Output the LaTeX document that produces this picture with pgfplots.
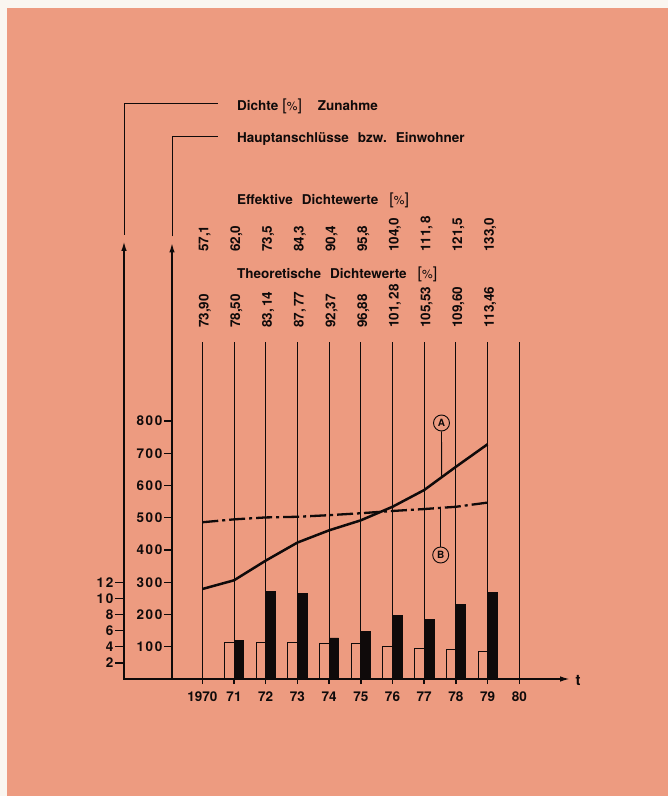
\documentclass[border=0pt]{standalone}
\usepackage{fontspec}
\setmainfont{TeX Gyre Heros}
\newfontfamily\numfont[LetterSpace=12]{TeX Gyre Heros}
\usepackage{pgfplots}
\pgfplotsset{compat=1.18}
\usetikzlibrary{arrows.meta}
\definecolor{bg}{RGB}{237,155,128}
\definecolor{ink}{RGB}{15,10,10}
\newcommand\f[1]{\fontsize{#1}{#1}\selectfont\bfseries}
\newcommand\p[2]{({#1-123.05},{679-(#2)})}
\newcommand\pct{{\mdseries\fontsize{16}{16}\selectfont[}{\mdseries\fontsize{12}{12}\selectfont\%}{\mdseries\fontsize{16}{16}\selectfont]}}
\begin{document}
\begin{tikzpicture}
\begin{scope}[x=1pt,y=1pt]
\path[use as bounding box, fill={rgb,255:red,250;green,246;blue,240}] \p{0}{796} rectangle \p{668}{0};
\fill[bg] \p{7}{796} rectangle \p{668}{8};
\end{scope}

% bars (percent scale)
\begin{axis}[at={(0,0)}, anchor=south west, scale only axis,
  width=446.97pt, height=580.5pt,
  xmin=1967.5, xmax=1981.6, ymin=0, ymax=72,
  hide axis, ybar, bar width=9.6pt, clip=false]
\addplot[draw=ink, fill=none, line width=1pt, bar shift=-4.8pt] coordinates
 {(1971,4.48) (1972,4.48) (1973,4.48) (1974,4.36) (1975,4.36) (1976,4.03) (1977,3.79) (1978,3.70) (1979,3.42)};
\addplot[draw=ink, fill=ink, line width=0.5pt, bar shift=4.8pt] coordinates
 {(1971,4.81) (1972,10.90) (1973,10.58) (1974,5.10) (1975,5.93) (1976,7.90) (1977,7.37) (1978,9.30) (1979,10.70)};
\end{axis}

% main axis
\begin{axis}[at={(0,0)}, anchor=south west, scale only axis,
  width=446.97pt, height=580.5pt,
  xmin=1967.5, xmax=1981.6, ymin=0, ymax=1800,
  axis x line=bottom, axis y line=none,
  axis line style={ink, line width=1.7pt, -{Latex[length=10pt,width=5.5pt]}},
  xtick={1970,1971,1972,1973,1974,1975,1976,1977,1978,1979,1980},
  xticklabels={1970,71,72,73,74,75,76,77,78,79,80},
  tick align=outside, major tick length=5pt,
  tick style={ink, line width=1.5pt},
  xticklabel style={font=\f{13.5}, text=ink, yshift=-4pt},
  clip=false]
\addplot[ycomb, ink, line width=1pt, no marks] coordinates
 {(1970,1045) (1971,1045) (1972,1045) (1973,1045) (1974,1045) (1975,1045) (1976,1045) (1977,1045) (1978,1045) (1979,1045) (1980,1045)};
\addplot[ink, line width=2.5pt, no marks, line join=round] coordinates
 {(1970,279) (1971,306) (1972,367) (1973,423) (1974,461) (1975,492) (1976,534) (1977,586) (1978,658) (1979,728)};
\addplot[ink, line width=2.3pt, no marks, dash pattern=on 16pt off 4pt on 3pt off 4pt] coordinates
 {(1970,486) (1971,495) (1972,501) (1973,503) (1974,508) (1975,514) (1976,521) (1977,527) (1978,534) (1979,547)};
\end{axis}

\begin{scope}[x=1pt,y=1pt]
% left axes
\draw[ink, line width=1.8pt, -{Latex[length=10pt,width=5.5pt]}] \p{124}{679.8} -- \p{124}{241};
\draw[ink, line width=1.8pt, -{Latex[length=10pt,width=5.5pt]}] \p{172}{679.8} -- \p{172}{242.5};
\draw[ink, line width=1pt] \p{124.5}{235} -- \p{124.5}{103.3} -- \p{218}{103.3};
\draw[ink, line width=1pt] \p{172.5}{236.5} -- \p{172.5}{137} -- \p{218}{137};
\foreach \v in {2,4,...,12} {
  \draw[ink, line width=1.4pt] \p{115}{679-\v*8.0625} -- \p{124}{679-\v*8.0625};
  \node[anchor=east, inner sep=0, text=ink] at \p{113.5}{679-\v*8.0625} {\numfont\f{13.5}\v};
}
\foreach \v in {100,200,...,800} {
  \draw[ink, line width=1.4pt] \p{164.5}{679-\v*0.3225} -- \p{172}{679-\v*0.3225};
  \node[anchor=east, inner sep=0, text=ink] at \p{162.5}{679-\v*0.3225} {\numfont\f{13.5}\v};
}
% headers
\node[anchor=base west, inner sep=0, text=ink] at \p{237}{110.5} {\f{13.5}Dichte\hspace{4pt}\pct\hspace{16pt}Zunahme};
\node[anchor=base west, inner sep=0, text=ink] at \p{237}{142.7} {\f{13.5}Hauptanschlüsse\hspace{9pt}bzw.\hspace{9pt}Einwohner};
\node[anchor=base west, inner sep=0, text=ink] at \p{237}{205} {\f{13.5}Effektive\hspace{9pt}Dichtewerte\hspace{11pt}\pct};
\node[anchor=base west, inner sep=0, text=ink] at \p{237}{279} {\f{13.5}Theoretische\hspace{9pt}Dichtewerte\hspace{11pt}\pct};
% rotated values
\foreach \k/\t in {0/{57,1},1/{62,0},2/{73,5},3/{84,3},4/{90,4},5/{95,8},6/{104,0},7/{111,\,8},8/{121,5},9/{133,0}} {
  \node[rotate=90, anchor=west, inner sep=0, text=ink] at \p{202.3+\k*31.7+2.5}{252} {\f{13.5}\t};
}
\foreach \k/\t in {0/{73,90},1/{78,50},2/{83,\,14},3/{87,\,77},4/{92,37},5/{96,88},6/{101,\,28},7/{105,53},8/{109,60},9/{113,46}} {
  \node[rotate=90, anchor=west, inner sep=0, text=ink] at \p{202.3+\k*31.7+2.5}{328} {\f{13.5}\t};
}
% t label
\node[text=ink, inner sep=0] at \p{578}{680} {\f{15}t};
% annotations A and B
\node[circle, draw=ink, line width=0.9pt, inner sep=0, minimum size=16pt, text=ink] (cA) at \p{441.5}{423} {\f{10}A};
\node[circle, draw=ink, line width=0.9pt, inner sep=0, minimum size=16pt, text=ink] (cB) at \p{440.7}{555} {\f{10}B};
\draw[ink, line width=0.9pt] (cA.south) -- \p{441.7}{476};
\draw[ink, line width=0.9pt] (cB.north) -- \p{440.7}{509};
\end{scope}
\end{tikzpicture}
\end{document}
